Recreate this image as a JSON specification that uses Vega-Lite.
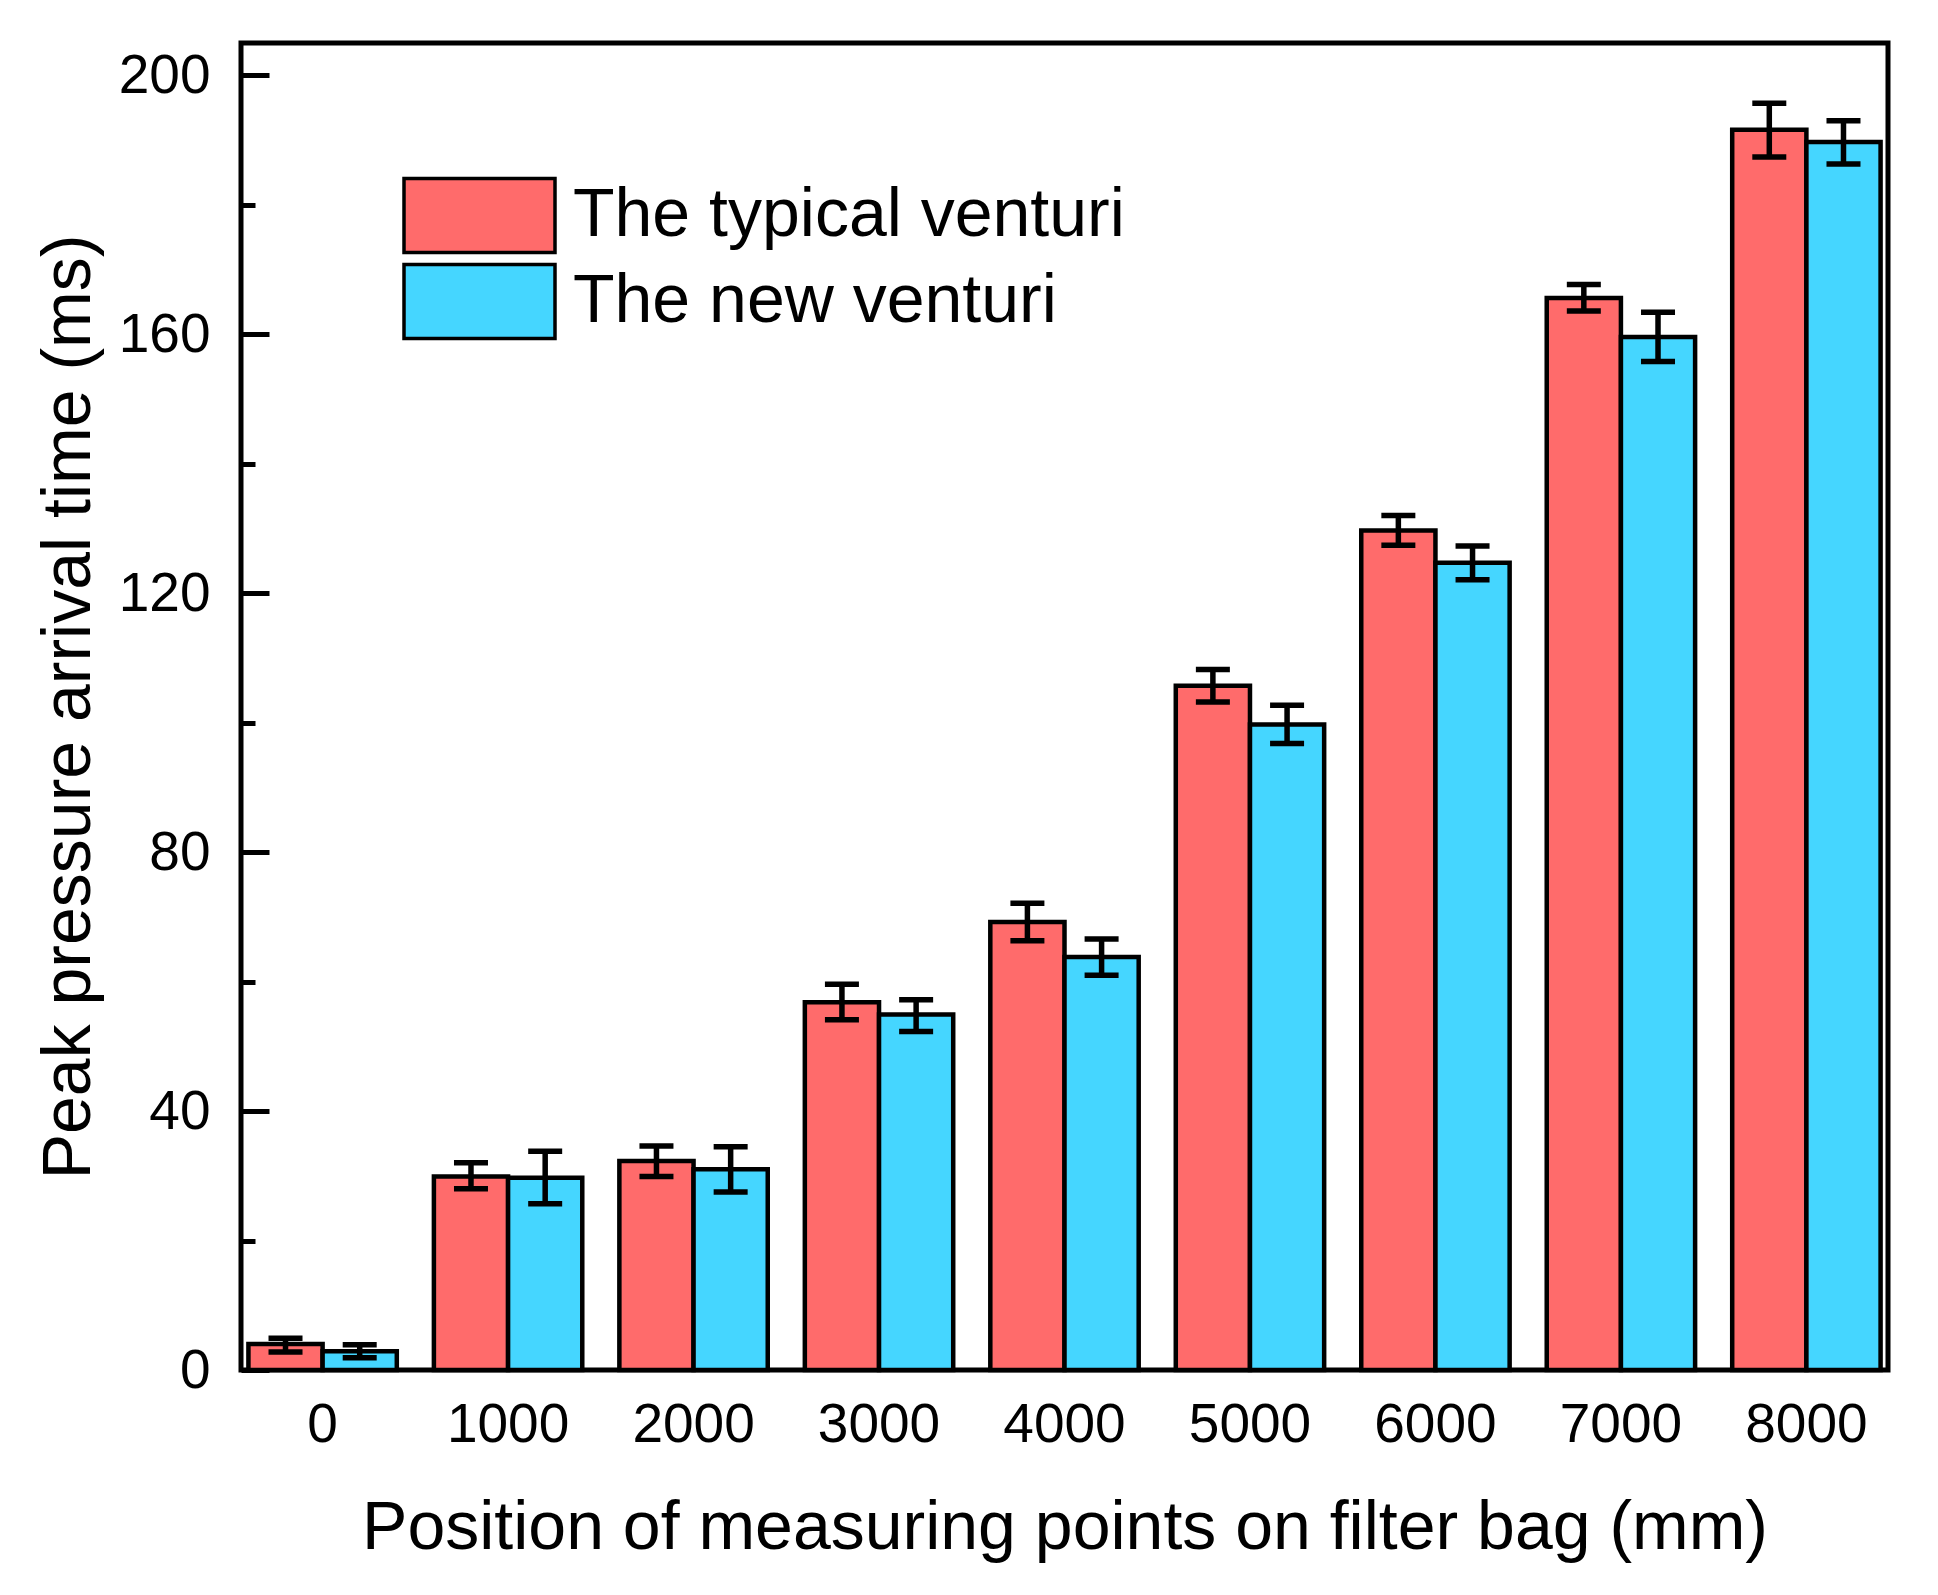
{
  "$schema": "https://vega.github.io/schema/vega-lite/v6.json",
  "width": 1647,
  "height": 1327,
  "autosize": "none",
  "padding": {"left": 241, "top": 43, "right": 50, "bottom": 225},
  "background": "white",
  "data": {
    "values": [
      {"pos": 0, "series": "The typical venturi", "value": 4.0, "lo": 2.8, "hi": 4.9},
      {"pos": 0, "series": "The new venturi", "value": 2.9, "lo": 1.9, "hi": 3.9},
      {"pos": 1000, "series": "The typical venturi", "value": 29.9, "lo": 28.0, "hi": 32.0},
      {"pos": 1000, "series": "The new venturi", "value": 29.7, "lo": 25.7, "hi": 33.8},
      {"pos": 2000, "series": "The typical venturi", "value": 32.3, "lo": 29.9, "hi": 34.6},
      {"pos": 2000, "series": "The new venturi", "value": 31.0, "lo": 27.5, "hi": 34.5},
      {"pos": 3000, "series": "The typical venturi", "value": 56.8, "lo": 54.1, "hi": 59.6},
      {"pos": 3000, "series": "The new venturi", "value": 54.9, "lo": 52.3, "hi": 57.2},
      {"pos": 4000, "series": "The typical venturi", "value": 69.2, "lo": 66.3, "hi": 72.1},
      {"pos": 4000, "series": "The new venturi", "value": 63.8, "lo": 61.0, "hi": 66.6},
      {"pos": 5000, "series": "The typical venturi", "value": 105.7, "lo": 103.2, "hi": 108.2},
      {"pos": 5000, "series": "The new venturi", "value": 99.7, "lo": 96.8, "hi": 102.7},
      {"pos": 6000, "series": "The typical venturi", "value": 129.7, "lo": 127.4, "hi": 132.0},
      {"pos": 6000, "series": "The new venturi", "value": 124.7, "lo": 122.1, "hi": 127.3},
      {"pos": 7000, "series": "The typical venturi", "value": 165.6, "lo": 163.6, "hi": 167.7},
      {"pos": 7000, "series": "The new venturi", "value": 159.6, "lo": 155.8, "hi": 163.4},
      {"pos": 8000, "series": "The typical venturi", "value": 191.6, "lo": 187.4, "hi": 195.7},
      {"pos": 8000, "series": "The new venturi", "value": 189.7, "lo": 186.3, "hi": 193.0}
    ]
  },
  "encoding": {
    "x": {
      "field": "pos",
      "type": "ordinal",
      "scale": {"paddingInner": 0.2, "paddingOuter": 0.04},
      "axis": {
        "title": "Position of measuring points on filter bag (mm)",
        "labelAngle": 0,
        "domain": false,
        "tickSize": -12,
        "tickWidth": 5,
        "tickColor": "black",
        "labelPadding": 40,
        "titlePadding": 42
      }
    },
    "xOffset": {
      "field": "series",
      "type": "nominal",
      "sort": ["The typical venturi", "The new venturi"],
      "scale": {"paddingInner": 0, "paddingOuter": 0}
    }
  },
  "layer": [
    {
      "mark": {"type": "bar", "stroke": "black", "strokeWidth": 4.5, "opacity": 1},
      "encoding": {
        "y": {
          "field": "value",
          "type": "quantitative",
          "scale": {"domain": [0, 205], "nice": false},
          "axis": {
            "orient": "left",
            "title": "Peak pressure arrival time (ms)",
            "values": [0, 40, 80, 120, 160, 200],
            "grid": false,
            "domain": false,
            "tickSize": -28,
            "tickWidth": 5,
            "tickColor": "black",
            "labelPadding": 59,
            "titlePadding": 15
          }
        },
        "color": {
          "field": "series",
          "type": "nominal",
          "scale": {"domain": ["The typical venturi", "The new venturi"], "range": ["#FF6B6B", "#45D6FF"]},
          "legend": {
            "title": null,
            "orient": "none",
            "legendX": 199,
            "legendY": 133,
            "symbolType": "M-2,-0.98H2V0.98H-2Z",
            "symbolSize": 5700,
            "symbolStrokeColor": "black",
            "symbolStrokeWidth": 3.5,
            "symbolOpacity": 1,
            "labelFont": "Liberation Sans",
            "labelFontSize": 68,
            "labelColor": "black",
            "labelLimit": 0,
            "labelOffset": 54,
            "rowPadding": -3
          }
        }
      }
    },
    {
      "mark": {"type": "rule", "color": "black", "strokeWidth": 5.5},
      "encoding": {
        "y": {
          "field": "lo",
          "type": "quantitative",
          "axis": {
            "orient": "left",
            "title": null,
            "values": [20, 60, 100, 140, 180],
            "labels": false,
            "grid": false,
            "domain": false,
            "tickSize": -14,
            "tickWidth": 5,
            "tickColor": "black"
          }
        },
        "y2": {"field": "hi"}
      }
    },
    {
      "mark": {"type": "tick", "color": "black", "thickness": 5.5, "size": 34, "opacity": 1},
      "encoding": {
        "y": {"field": "lo", "type": "quantitative", "axis": null}
      }
    },
    {
      "mark": {"type": "tick", "color": "black", "thickness": 5.5, "size": 34, "opacity": 1},
      "encoding": {
        "y": {"field": "hi", "type": "quantitative", "axis": null}
      }
    }
  ],
  "resolve": {"axis": {"y": "independent"}},
  "config": {
    "view": {"stroke": "black", "strokeWidth": 5},
    "axis": {
      "labelFont": "Liberation Sans",
      "labelFontSize": 55,
      "labelColor": "black",
      "titleFont": "Liberation Sans",
      "titleFontSize": 68,
      "titleFontWeight": "normal",
      "titleColor": "black"
    }
  }
}
